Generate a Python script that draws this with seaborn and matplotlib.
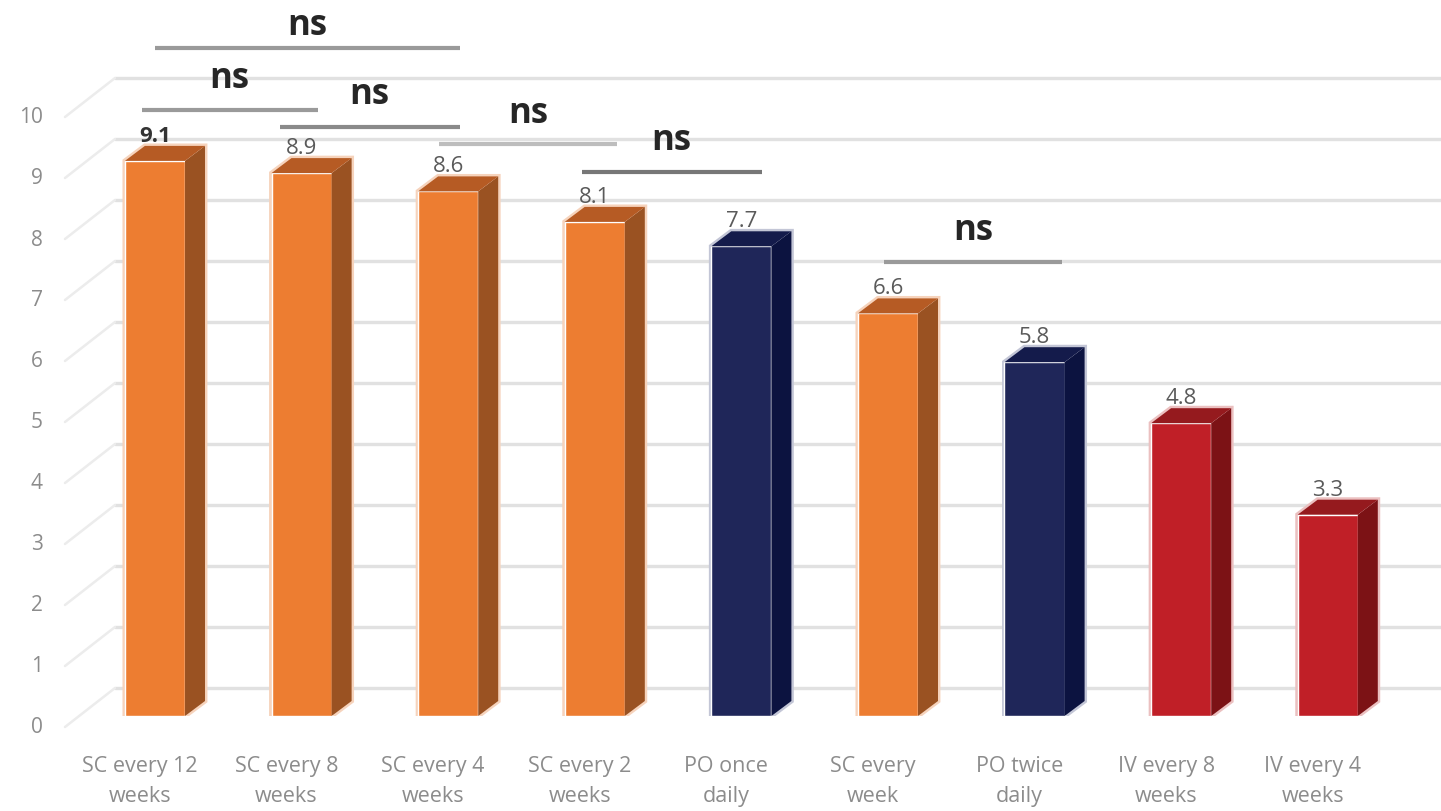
import pandas as pd
import seaborn as sns
import matplotlib.pyplot as plt
import matplotlib.transforms as mtransforms
from matplotlib.patches import Polygon

# Dados do gráfico
regimes = ["SC every 12\nweeks", "SC every 8\nweeks", "SC every 4\nweeks", "SC every 2\nweeks",
           "PO once\ndaily", "SC every\nweek", "PO twice\ndaily", "IV every 8\nweeks", "IV every 4\nweeks"]
valores = [9.1, 8.9, 8.6, 8.1, 7.7, 6.6, 5.8, 4.8, 3.3]
via = ["SC", "SC", "SC", "SC", "PO", "SC", "PO", "IV", "IV"]
yticks = [0, 1, 2, 3, 4, 5, 6, 7, 8, 9, 10]

# Comparações "ns": (início, fim, altura da linha, altura do texto)
comp_inicio = [0.0, -0.09, 0.85, 1.94, 2.91, 4.97]
comp_fim = [2.08, 1.11, 2.08, 3.15, 4.14, 6.19]
comp_linha = [10.95, 9.93, 9.66, 9.38, 8.92, 7.44]
comp_texto = [11.18, 10.31, 10.05, 9.74, 9.30, 7.82]
comp_cor = ['#9a9a9a', '#9a9a9a', '#8a8a8a', '#bdbdbd', '#777777', '#9a9a9a']

cores_frente = {"SC": "#ED7D31", "PO": "#1F2659", "IV": "#C01F27"}
cores_lado = {"SC": "#9A5222", "PO": "#0C1340", "IV": "#7C1215"}
cores_topo = {"SC": "#B65B24", "PO": "#141B4B", "IV": "#951A1E"}
cores_brilho = {"SC": "#F6D3BC", "PO": "#C3C6D6", "IV": "#EBC0C0"}

df = pd.DataFrame({'Regime': regimes, 'Valor': valores, 'Via': via})

sns.set_style('white')
plt.rcParams['font.family'] = ['Open Sans', 'DejaVu Sans']

fig = plt.figure(figsize=(14.41, 8.12), dpi=100)
ax = fig.add_axes([67 / 1441, 95 / 812, 1348.7 / 1441, 717 / 812])

sns.barplot(data=df, x='Regime', y='Valor', hue='Regime',
            palette=[cores_frente[v] for v in via], width=0.41,
            saturation=1, legend=False, ax=ax, zorder=3)

ax.set_xlim(-0.6, 8.6)
ax.set_ylim(0, 717 / 61)
for s in ax.spines.values():
    s.set_visible(False)

# escala em pixels por unidade de dado
p0 = ax.transData.transform((0, 0))
p1 = ax.transData.transform((1, 1))
sx = p1[0] - p0[0]
sy = p1[1] - p0[1]

# profundidade da parede e das barras
wall_dx, wall_dy = 48 / sx, 28 / sy
bar_dx, bar_dy = 20 / sx, 15 / sy

# grade "3D" ao fundo
x0_ax = -0.6
for v in yticks:
    ax.plot([x0_ax + wall_dx, 8.6 + 30 / sx], [v + wall_dy, v + wall_dy],
            color='#e1e1e1', lw=2.4, zorder=1, clip_on=False)
    ax.plot([x0_ax - 2 / sx, x0_ax + wall_dx], [v - 11 / sy, v + wall_dy],
            color='#ececec', lw=1.8, zorder=1, clip_on=False)
    ax.text(x0_ax - 24 / sx, v - 11 / sy, str(v), ha='right', va='center',
            fontsize=15, color='#8c8c8c')
ax.set_yticks([])
ax.set_ylabel('')
ax.set_xlabel('')

# faces laterais e de topo das barras
for i, p in enumerate(ax.patches):
    x0 = p.get_x()
    w = p.get_width()
    h = p.get_height()
    v = via[i]
    contorno = [(x0, 0), (x0, h), (x0 + bar_dx, h + bar_dy), (x0 + w + bar_dx, h + bar_dy),
                (x0 + w + bar_dx, bar_dy), (x0 + w, 0)]
    ax.add_patch(Polygon(contorno, closed=True, facecolor='none', edgecolor=cores_brilho[v],
                         lw=3.5, zorder=2, joinstyle='miter'))
    lado = [(x0 + w, 0), (x0 + w + bar_dx, bar_dy), (x0 + w + bar_dx, h + bar_dy), (x0 + w, h)]
    ax.add_patch(Polygon(lado, closed=True, facecolor=cores_lado[v], edgecolor='none', zorder=3))
    topo = [(x0, h), (x0 + bar_dx, h + bar_dy), (x0 + w + bar_dx, h + bar_dy), (x0 + w, h)]
    ax.add_patch(Polygon(topo, closed=True, facecolor=cores_topo[v], edgecolor='none', zorder=3))
    ax.text(x0 + w / 2, h + 20 / sy, f'{valores[i]:.1f}', ha='center', va='baseline',
            fontsize=16, color='#333333' if i == 0 else '#5a5a5a',
            fontweight='bold' if i == 0 else 'normal', zorder=5)

# rótulos do eixo x
ax.tick_params(axis='x', length=0, pad=28, labelsize=15.5, labelcolor='#8c8c8c')
desloc = mtransforms.ScaledTranslation(-15 / 100, 0, fig.dpi_scale_trans)
for lab in ax.get_xticklabels():
    lab.set_linespacing(1.6)
    lab.set_transform(lab.get_transform() + desloc)

# comparações ns
for a, b, yl, yt, c in zip(comp_inicio, comp_fim, comp_linha, comp_texto, comp_cor):
    ax.plot([a, b], [yl, yl], color=c, lw=3, zorder=4, solid_capstyle='butt', clip_on=False)
    ax.text((a + b) / 2, yt, 'ns', ha='center', va='baseline', fontsize=25,
            fontweight='bold', color='#262626', zorder=5, clip_on=False)

fig.savefig('out.png', dpi=100)
